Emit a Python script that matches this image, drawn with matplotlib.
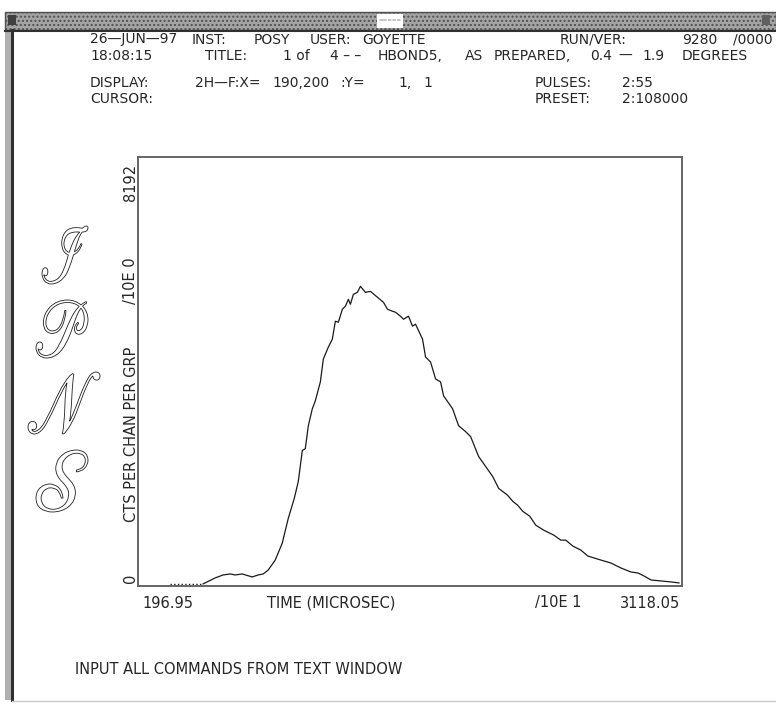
import numpy as np
import matplotlib
matplotlib.use("Agg")
import matplotlib.pyplot as plt
from matplotlib.patches import Rectangle, PathPatch
from matplotlib.textpath import TextPath
from matplotlib.transforms import Affine2D

plt.rcParams['font.family'] = 'DejaVu Sans'
plt.rcParams['mathtext.fontset'] = 'stix'

## Daten
time = [369.1, 546.6, 611.2, 654.2, 691.9, 718.8, 756.4, 810.2, 842.5, 869.4,
        896.3, 933.9, 971.6, 1004.0, 1036.2, 1057.7, 1079.2, 1095.4, 1111.5, 1133.0,
        1149.2, 1176.1, 1192.2, 1219.1, 1240.6, 1256.7, 1272.9, 1294.4, 1310.5, 1326.7,
        1337.4, 1353.6, 1375.1, 1391.2, 1418.1, 1445.0, 1482.7, 1515.0, 1536.5, 1563.4,
        1579.5, 1606.4, 1622.6, 1649.5, 1671.0, 1687.1, 1724.8, 1741.0, 1767.9, 1794.8,
        1821.6, 1837.8, 1886.2, 1918.5, 1956.2, 1983.1, 2026.1, 2063.8, 2101.4, 2133.7,
        2182.1, 2209.0, 2235.9, 2262.8, 2300.5, 2332.7, 2375.8, 2429.6, 2467.2, 2494.1,
        2531.8, 2574.8, 2612.4, 2682.4, 2736.2, 2790.0, 2843.7, 2881.4, 2913.7, 2951.3,
        3005.1, 3058.9, 3101.9]
counts = [0, 0, 115, 172, 191, 172, 191, 134, 172, 191,
          267, 458, 783, 1260, 1642, 1967, 2559, 2597, 3036, 3361,
          3514, 3876, 4316, 4545, 4698, 5041, 5022, 5271, 5328, 5461,
          5366, 5557, 5595, 5710, 5595, 5614, 5500, 5404, 5271, 5232,
          5213, 5137, 5079, 5137, 4946, 4984, 4698, 4354, 4258, 3934,
          3876, 3609, 3361, 3036, 2922, 2826, 2444, 2253, 2062, 1833,
          1700, 1585, 1509, 1394, 1299, 1127, 1031, 936, 840, 840,
          726, 649, 535, 458, 401, 306, 229, 210, 153, 76,
          57, 38, 19]

x_min, x_max = 196.95, 3118.05
y_min, y_max = 0, 8192

# Kopfzeilen: (x, y, Text, Ausrichtung)
L1, L2, L3, L4 = 39.5, 55.5, 83, 99
header = [
    (90, L1, "26—JUN—97", 'left'), (192, L1, "INST:", 'left'), (254, L1, "POSY", 'left'),
    (310, L1, "USER:", 'left'), (362, L1, "GOYETTE", 'left'), (560, L1, "RUN/VER:", 'left'),
    (682, L1, "9280", 'left'), (733, L1, "/0000", 'left'),
    (90, L2, "18:08:15", 'left'), (205, L2, "TITLE:", 'left'), (283, L2, "1 of", 'left'),
    (330, L2, "4 – –", 'left'), (378, L2, "HBOND5,", 'left'), (465, L2, "AS", 'left'),
    (494, L2, "PREPARED,", 'left'), (590, L2, "0.4", 'left'), (618, L2, "—", 'left'),
    (642, L2, "1.9", 'left'), (748, L2, "DEGREES", 'right'),
    (90, L3, "DISPLAY:", 'left'), (195, L3, "2H—F:X=", 'left'), (272, L3, "190,200", 'left'),
    (340, L3, ":Y=", 'left'), (398, L3, "1,", 'left'), (423, L3, "1", 'left'),
    (535, L3, "PULSES:", 'left'), (622, L3, "2:55", 'left'),
    (90, L4, "CURSOR:", 'left'), (535, L4, "PRESET:", 'left'), (622, L4, "2:108000", 'left'),
]
# Schriftzug IPNS: (Buchstabe, x0, x1, y0, y1)
letters = [("I", 42, 88, 226, 284), ("P", 36, 88, 300, 358),
           ("N", 28, 100, 372, 434), ("S", 36, 88, 450, 512)]

W, H = 776, 704
fig = plt.figure(figsize=(W / 100, H / 100), dpi=100)

## Hintergrund in Pixelkoordinaten
bg = fig.add_axes([0, 0, 1, 1])
bg.set_xlim(0, W)
bg.set_ylim(H, 0)
bg.axis('off')

# Fensterrahmen
bg.add_patch(Rectangle((5, 12), W - 5, 18, facecolor='#a4a4a4', edgecolor='#505050', lw=1, hatch='....'))
bg.add_patch(Rectangle((377, 14), 26, 14, facecolor='white', edgecolor='none'))
bg.text(390, 21, "=====", fontsize=4, color='#777777', ha='center', va='center')
bg.add_patch(Rectangle((8, 15), 8, 10, facecolor='#404040', edgecolor='none'))
bg.add_patch(Rectangle((762, 15), 8, 10, facecolor='#606060', edgecolor='none'))
bg.add_patch(Rectangle((5, 30), 8, H - 34, facecolor='#b0b0b0', edgecolor='none', hatch='....'))
bg.plot([12, 12], [30, H - 4], color='#303030', lw=2.2)
bg.plot([5, W], [31, 31], color='#303030', lw=1.5)
bg.plot([12, W], [H - 3, H - 3], color='#c8c8c8', lw=1)

hdr = dict(fontsize=10, color='#262626', va='center')
for x, y, s, ha in header:
    bg.text(x, y, s, ha=ha, **hdr)

txt = dict(fontsize=10.5, color='#262626', va='center')
# y-Achsenbeschriftung (vertikal)
bg.text(131, 182, "8192", rotation=90, ha='center', **txt)
bg.text(131, 281, "/10E 0", rotation=90, ha='center', **txt)
bg.text(131, 434, "CTS PER CHAN PER GRP", rotation=90, ha='center', **txt)
bg.text(131, 578, "0", rotation=90, ha='center', **txt)

# x-Achsenbeschriftung
bg.text(142, 603, "196.95", ha='left', **txt)
bg.text(267, 603, "TIME (MICROSEC)", ha='left', **txt)
bg.text(535, 603, "/10E 1", ha='left', **txt)
bg.text(680, 603, "3118.05", ha='right', **txt)

bg.text(75, 669, "INPUT ALL COMMANDS FROM TEXT WINDOW", ha='left', **txt)

# IPNS Schriftzug als Umriss
for ch, x0, x1, y0, y1 in letters:
    try:
        tp = TextPath((0, 0), r'$\mathscr{%s}$' % ch, size=100)
    except Exception:
        tp = TextPath((0, 0), r'$\mathcal{%s}$' % ch, size=100)
    ext = tp.get_extents()
    sx = (x1 - x0) / ext.width
    sy = (y1 - y0) / ext.height
    tr = (Affine2D().translate(-(ext.x0 + ext.x1) / 2, -(ext.y0 + ext.y1) / 2)
          .scale(sx, -sy).translate((x0 + x1) / 2, (y0 + y1) / 2))
    bg.add_patch(PathPatch(tp, transform=tr + bg.transData, facecolor='none',
                           edgecolor='#202020', lw=0.6))

## Plot
ax = fig.add_axes([138 / W, 1 - 586 / H, (682 - 138) / W, (586 - 157) / H])
ax.set_facecolor('none')
ax.plot(time[:2], counts[:2], color='#1a1a1a', lw=1.0, linestyle=':')
ax.plot(time[1:], counts[1:], color='#1a1a1a', lw=0.9)
ax.set_xlim(x_min, x_max)
ax.set_ylim(y_min - 40, y_max)
ax.set_xticks([])
ax.set_yticks([])
for sp in ax.spines.values():
    sp.set_color('#666666')
    sp.set_linewidth(1.4)

fig.savefig('out.png', dpi=100)
